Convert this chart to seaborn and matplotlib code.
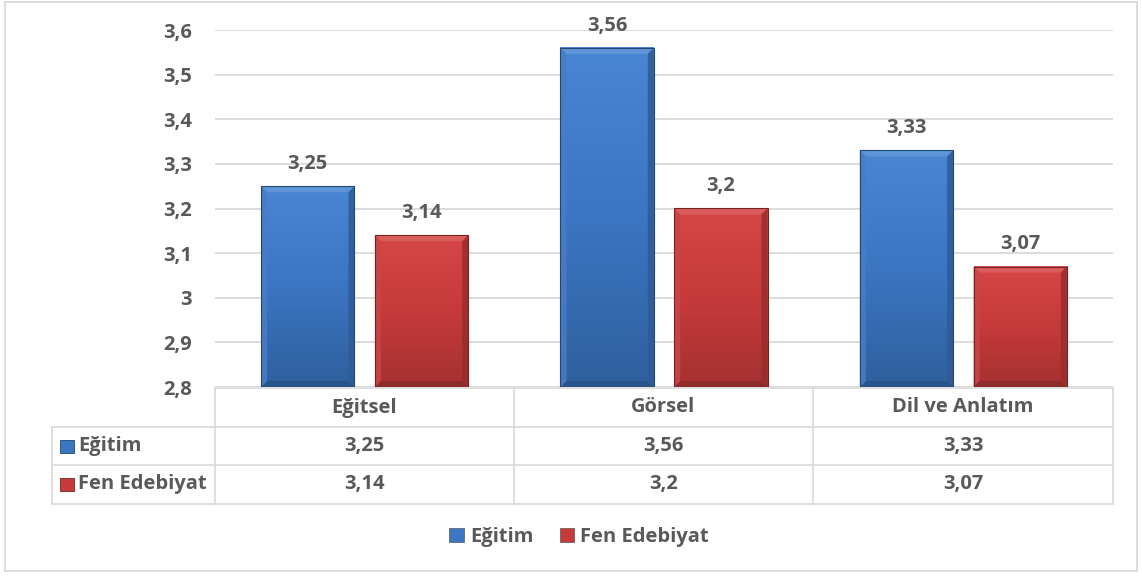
import numpy as np
import pandas as pd
import matplotlib
matplotlib.use("Agg")
import matplotlib.pyplot as plt
import matplotlib.colors as mcolors
from matplotlib.patches import Rectangle, Polygon
import seaborn as sns

# ---- data ----
categories = ["Eğitsel", "Görsel", "Dil ve Anlatım"]
series_names = ["Eğitim", "Fen Edebiyat"]
egitim = [3.25, 3.56, 3.33]
fen_edebiyat = [3.14, 3.20, 3.07]
y_ticks = [2.8, 2.9, 3.0, 3.1, 3.2, 3.3, 3.4, 3.5, 3.6]

series_values = [egitim, fen_edebiyat]
colors = ["#3C75C2", "#C63A3A"]
grad_top = ["#4986D4", "#D64646"]
grad_bottom = ["#2F609E", "#A53131"]
text_color = "#595959"
line_color = "#D9D9D9"
FS = 14.5


def tr(v):
    return f"{v:g}".replace(".", ",")


df = pd.DataFrame({
    "Kategori": categories * len(series_names),
    "Grup": [s for s in series_names for _ in categories],
    "Değer": egitim + fen_edebiyat,
})

sns.set_theme(style="white")
plt.rcParams["font.family"] = ["Open Sans", "DejaVu Sans"]
plt.rcParams["font.weight"] = "bold"

W, H = 1142, 576
fig = plt.figure(figsize=(W / 100, H / 100), dpi=100)

# overlay canvas in pixel units for the frame and the data table
ov = fig.add_axes([0, 0, 1, 1])
ov.set_xlim(0, W)
ov.set_ylim(H, 0)
ov.axis("off")

PX_L, PX_R, PX_T, PX_B = 215, 1113, 30, 387
ax = fig.add_axes([PX_L / W, 1 - PX_B / H, (PX_R - PX_L) / W, (PX_B - PX_T) / H])
ax.set_facecolor("none")

sns.barplot(data=df, x="Kategori", y="Değer", hue="Grup", palette=colors,
            width=0.76, gap=0.18, saturation=1, ax=ax, legend=True,
            edgecolor="none", err_kws={"linewidth": 0})

ax.set_xlabel("")
ax.set_ylabel("")
ax.grid(axis="y", color=line_color, linewidth=1.3)
ax.set_axisbelow(True)
for sp in ax.spines.values():
    sp.set_visible(False)

# bevelled, shaded bar faces
x_per_px = (len(categories)) / (PX_R - PX_L)
y_per_px = (y_ticks[-1] - y_ticks[0]) / (PX_B - PX_T)
bev = 6
bx, by = bev * x_per_px, bev * y_per_px


def shade(c, f):
    r, g, b = mcolors.to_rgb(c)
    if f >= 1:
        return (r + (1 - r) * (f - 1), g + (1 - g) * (f - 1), b + (1 - b) * (f - 1))
    return (r * f, g * f, b * f)


for k, (container, base, vals) in enumerate(zip(ax.containers, colors, series_values)):
    cmap = mcolors.LinearSegmentedColormap.from_list(
        f"g{k}", [grad_bottom[k], base, grad_top[k]])
    for bar, v in zip(container, vals):
        x0 = bar.get_x()
        x1 = x0 + bar.get_width()
        y0 = y_ticks[0]
        y1 = v
        bar.set_visible(False)
        grad = np.linspace(0, 1, 256).reshape(-1, 1)
        ax.imshow(grad, extent=(x0, x1, y0, y1), origin="lower", cmap=cmap,
                  aspect="auto", interpolation="bicubic", zorder=2.5)
        top = grad_top[k]
        faces = [
            ([(x0, y1), (x1, y1), (x1 - bx, y1 - by), (x0 + bx, y1 - by)], shade(top, 1.15)),
            ([(x0, y0), (x1, y0), (x1 - bx, y0 + by), (x0 + bx, y0 + by)], shade(grad_bottom[k], 0.85)),
            ([(x0, y0), (x0, y1), (x0 + bx, y1 - by), (x0 + bx, y0 + by)], shade(base, 1.06)),
            ([(x1, y0), (x1, y1), (x1 - bx, y1 - by), (x1 - bx, y0 + by)], shade(base, 0.78)),
        ]
        for pts, fc in faces:
            ax.add_patch(Polygon(pts, closed=True, facecolor=fc, edgecolor="none",
                                 alpha=0.85, zorder=3))
        ax.add_patch(Rectangle((x0, y0), x1 - x0, y1 - y0, facecolor="none",
                               edgecolor=shade(base, 0.6), linewidth=0.8, zorder=4))
        ax.annotate(tr(v), (x0 + (x1 - x0) / 2, y1), xytext=(0, 16), textcoords="offset points",
                    ha="center", va="center", fontsize=FS, fontweight="bold", color=text_color)

ax.set_ylim(y_ticks[0], y_ticks[-1])
ax.set_xlim(-0.5, len(categories) - 0.5)
ax.set_yticks(y_ticks)
ax.set_yticklabels([tr(t) for t in y_ticks], fontsize=FS, fontweight="bold", color=text_color)
ax.tick_params(axis="y", length=0, pad=16.5)
ax.tick_params(axis="x", length=0, labelbottom=False)

# legend below the table
sns.move_legend(ax, "center", bbox_to_anchor=(579 / W, 1 - 537 / H),
                bbox_transform=fig.transFigure, ncol=2, frameon=False, title=None,
                fontsize=FS, handlelength=0.72, handleheight=0.72, handletextpad=0.3,
                columnspacing=1.3)
for t in ax.get_legend().get_texts():
    t.set_color(text_color)
    t.set_fontweight("bold")
for h in ax.get_legend().legend_handles:
    h.set_edgecolor("#404040")
    h.set_linewidth(0.4)

# data table
col_x = [PX_L, 514, 813, PX_R]
row_y = [388, 427, 465, 504]
label_left = 52
lw = 1.2
ov.plot([PX_L, PX_R], [row_y[0]] * 2, color=line_color, lw=lw)
for yy in row_y[1:]:
    ov.plot([label_left, PX_R], [yy] * 2, color=line_color, lw=lw)
for xx in col_x:
    ov.plot([xx, xx], [row_y[0], row_y[-1]], color=line_color, lw=lw)
ov.plot([label_left, label_left], [row_y[1], row_y[-1]], color=line_color, lw=lw)

for i, cat in enumerate(categories):
    cx = (col_x[i] + col_x[i + 1]) / 2
    ov.text(cx, (row_y[0] + row_y[1]) / 2, cat, ha="center", va="center",
            fontsize=FS, fontweight="bold", color=text_color)
    for r, vals in enumerate(series_values):
        ov.text(cx, (row_y[r + 1] + row_y[r + 2]) / 2, tr(vals[i]), ha="center", va="center",
                fontsize=FS, fontweight="bold", color=text_color)

for r, (name, c) in enumerate(zip(series_names, colors)):
    cy = (row_y[r + 1] + row_y[r + 2]) / 2
    ov.add_patch(Rectangle((60, cy - 6.5), 14, 13, facecolor=c, edgecolor=shade(c, 0.6), lw=0.6))
    ov.text(78, cy, name, ha="left", va="center", fontsize=FS, fontweight="bold", color=text_color)

# outer frame
ov.add_patch(Rectangle((5, 2), 1132, 569, facecolor="none", edgecolor=line_color, lw=1.3))

fig.savefig("out.png", dpi=100)
